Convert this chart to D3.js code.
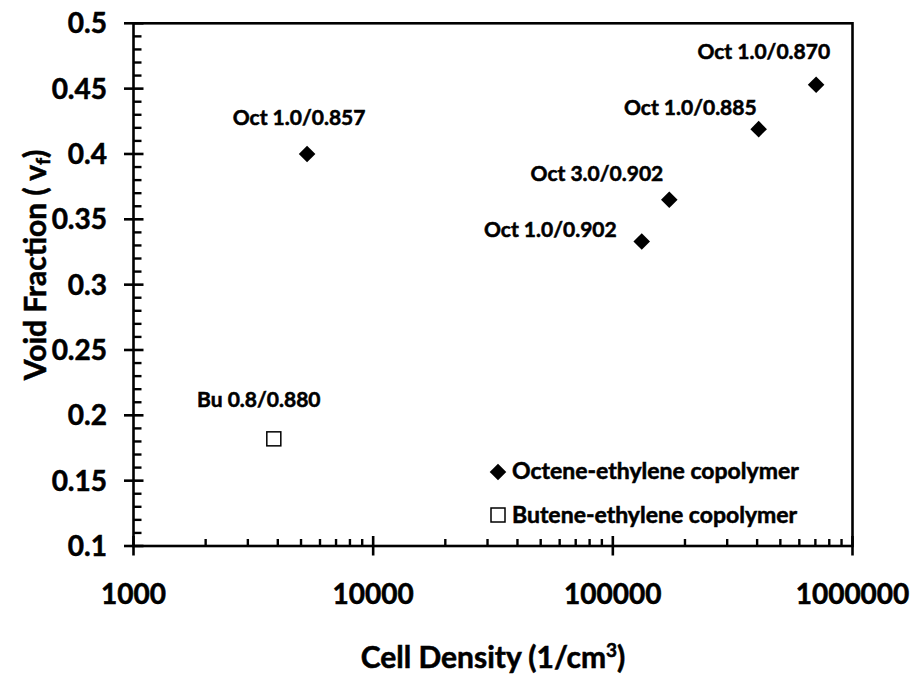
<!DOCTYPE html>
<html><head><meta charset="utf-8">
<script src="https://cdn.jsdelivr.net/npm/d3@7"></script>
<style>
html,body{margin:0;padding:0;background:#fff;}
text{font-family:Lato,"Open Sans",sans-serif;font-weight:700;fill:#000;stroke:#000;stroke-width:0.55px;}
</style></head>
<body><svg id="chart" width="914" height="679"></svg>
<script>
// ---- data ----
const octeneLabels = ["Oct 1.0/0.857","Oct 1.0/0.902","Oct 3.0/0.902","Oct 1.0/0.885","Oct 1.0/0.870"];
const octeneDensity = [5300, 132000, 172000, 406000, 705000];
const octeneVoid = [0.400, 0.333, 0.365, 0.419, 0.453];
const buteneLabels = ["Bu 0.8/0.880"];
const buteneDensity = [3850];
const buteneVoid = [0.182];
const xTickValues = [1000, 10000, 100000, 1000000];
const xTickLabels = ["1000", "10000", "100000", "1000000"];
const yTickValues = [0.1, 0.15, 0.2, 0.25, 0.3, 0.35, 0.4, 0.45, 0.5];
const yTickLabels = ["0.1", "0.15", "0.2", "0.25", "0.3", "0.35", "0.4", "0.45", "0.5"];
const seriesNames = ["Octene-ethylene copolymer", "Butene-ethylene copolymer"];

// ---- layout (label placement relative to marker) ----
const labelLayout = {
  "Oct 1.0/0.857": {dx: -8, dy: -29, anchor: "middle"},
  "Oct 1.0/0.870": {dx: 14, dy: -26, anchor: "end"},
  "Oct 1.0/0.885": {dx: -2, dy: -14, anchor: "end"},
  "Oct 3.0/0.902": {dx: -6, dy: -19, anchor: "end"},
  "Oct 1.0/0.902": {dx: -25, dy: -5, anchor: "end"},
  "Bu 0.8/0.880": {dx: -15, dy: -32, anchor: "middle"}
};

const svg = d3.select("#chart");
const L = 133.5, R = 852.5, T = 23.3, B = 546;
const x = d3.scaleLog().domain([1000, 1000000]).range([L, R]);
const y = d3.scaleLinear().domain([0.1, 0.5]).range([B, T]);

const g = svg.append("g");

// plot box
g.append("rect").attr("x", L).attr("y", T).attr("width", R - L).attr("height", B - T)
  .attr("fill", "none").attr("stroke", "#000").attr("stroke-width", 2.6);

// x axis minor ticks (inside)
const xMinor = [];
for (let d = 1000; d < 1000000; d *= 10) for (let k = 2; k <= 9; k++) xMinor.push(d * k);
g.selectAll(".xminor").data(xMinor).join("line")
  .attr("x1", d => x(d)).attr("x2", d => x(d)).attr("y1", B).attr("y2", B - 7)
  .attr("stroke", "#000").attr("stroke-width", 2.4);
// x major ticks (cross)
g.selectAll(".xmajor").data(xTickValues).join("line")
  .attr("x1", d => x(d)).attr("x2", d => x(d)).attr("y1", B - 10).attr("y2", B + 9.5)
  .attr("stroke", "#000").attr("stroke-width", 2.6);
g.selectAll(".xlab").data(xTickValues).join("text")
  .attr("x", d => x(d)).attr("y", 604).attr("text-anchor", "middle")
  .attr("font-size", 28).text((d, i) => xTickLabels[i]);

// y minor ticks
const yMinor = d3.range(0.11, 0.5, 0.01).filter(v => Math.abs(v * 100 % 5) > 0.5 && Math.abs(v * 100 % 5 - 5) > 0.5);
g.selectAll(".yminor").data(yMinor).join("line")
  .attr("x1", L).attr("x2", L + 8).attr("y1", d => y(d)).attr("y2", d => y(d))
  .attr("stroke", "#000").attr("stroke-width", 2.4);
g.selectAll(".ymajor").data(yTickValues).join("line")
  .attr("x1", L - 9.5).attr("x2", L + 10).attr("y1", d => y(d)).attr("y2", d => y(d))
  .attr("stroke", "#000").attr("stroke-width", 2.6);
g.selectAll(".ylab").data(yTickValues).join("text")
  .attr("x", 107).attr("y", d => y(d)).attr("dy", "0.36em").attr("text-anchor", "end")
  .attr("font-size", 28).text((d, i) => yTickLabels[i]);

// axis titles
const xt = g.append("text").attr("x", (L + R) / 2).attr("y", 668).attr("text-anchor", "middle").attr("font-size", 30);
xt.append("tspan").text("Cell Density (1/cm");
xt.append("tspan").attr("font-size", 19).attr("dy", -11).text("3");
xt.append("tspan").attr("dy", 11).text(")");

const yt = g.append("text").attr("transform", "translate(46,265) rotate(-90)").attr("text-anchor", "middle").attr("font-size", 30);
yt.append("tspan").text("Void Fraction ( ");
yt.append("tspan").text("v");
yt.append("tspan").attr("font-size", 19).attr("dy", 4).text("f");
yt.append("tspan").attr("dy", -4).text(")");

// markers
const diamond = d3.symbol().type(d3.symbolDiamond2).size(175);
const octData = octeneDensity.map((d, i) => ({x: d, y: octeneVoid[i], label: octeneLabels[i]}));
const buData = buteneDensity.map((d, i) => ({x: d, y: buteneVoid[i], label: buteneLabels[i]}));

g.selectAll(".oct").data(octData).join("path")
  .attr("d", diamond).attr("transform", d => `translate(${x(d.x)},${y(d.y)})`)
  .attr("fill", "#000");
const sq = 14;
g.selectAll(".bu").data(buData).join("rect")
  .attr("x", d => x(d.x) - sq / 2).attr("y", d => y(d.y) - sq / 2)
  .attr("width", sq).attr("height", sq).attr("fill", "#fff").attr("stroke", "#000").attr("stroke-width", 1.5);

// point labels
g.selectAll(".plab").data(octData.concat(buData)).join("text")
  .attr("x", d => x(d.x) + labelLayout[d.label].dx)
  .attr("y", d => y(d.y) + labelLayout[d.label].dy)
  .attr("text-anchor", d => labelLayout[d.label].anchor)
  .attr("font-size", 21).text(d => d.label);

// legend
const lg = g.append("g");
lg.append("path").attr("d", diamond).attr("transform", "translate(498,472)").attr("fill", "#000");
lg.append("text").attr("x", 512).attr("y", 479).attr("font-size", 23).text(seriesNames[0]);
lg.append("rect").attr("x", 491).attr("y", 508).attr("width", sq).attr("height", sq)
  .attr("fill", "#fff").attr("stroke", "#000").attr("stroke-width", 1.5);
lg.append("text").attr("x", 512).attr("y", 523).attr("font-size", 23).text(seriesNames[1]);
</script>
</body></html>
